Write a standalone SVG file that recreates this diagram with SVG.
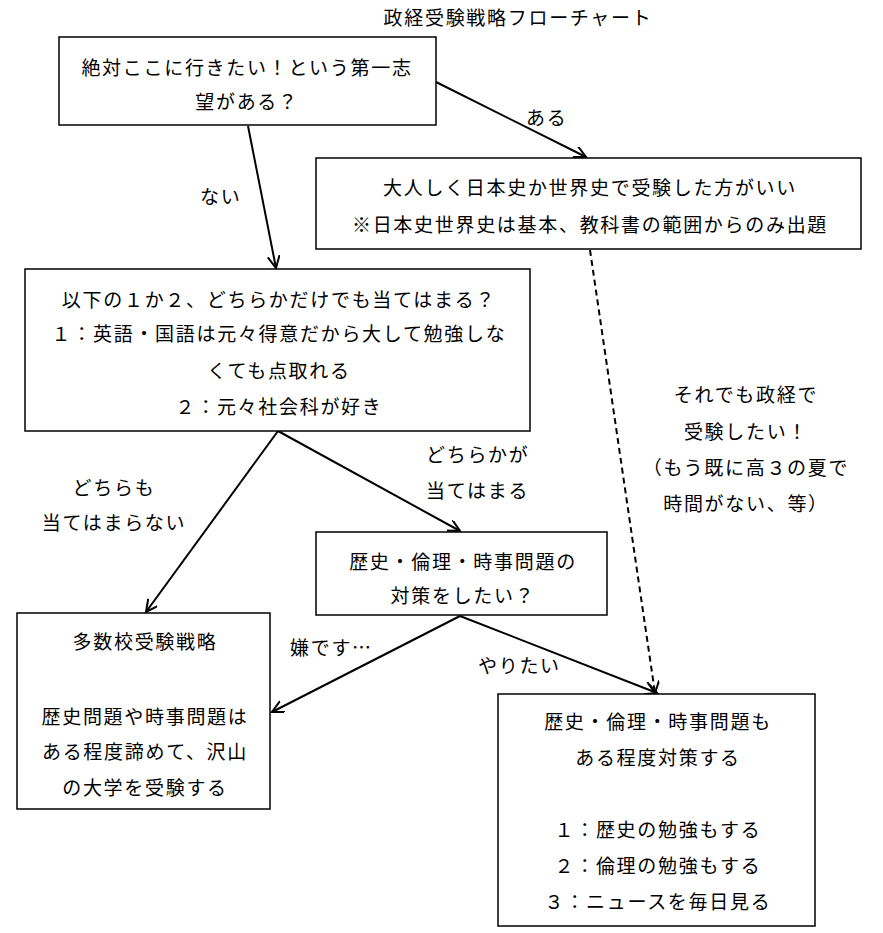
<svg xmlns="http://www.w3.org/2000/svg" width="883" height="933" viewBox="0 0 883 933">
<style>
text{font-family:"Noto Sans CJK JP","Noto Sans CJK SC",sans-serif;font-size:19px;fill:#000;letter-spacing:1.7px}
.c{text-anchor:middle}
.box{fill:#fff;stroke:#000;stroke-width:1.5}
.ln{stroke:#000;stroke-width:2;fill:none;marker-end:url(#arr)}
.dash{stroke-dasharray:6 4}
</style>
<defs>
<marker id="arr" markerWidth="14" markerHeight="14" refX="12" refY="6" orient="auto" markerUnits="userSpaceOnUse">
<path d="M0,0 L12,6 L0,12" fill="none" stroke="#000" stroke-width="2"/>
</marker>
</defs>
<text class="c" x="518" y="25">政経受験戦略フローチャート</text>
<g id="connectors">
<line class="ln" x1="436" y1="82" x2="586" y2="157"/>
<line class="ln" x1="248" y1="126" x2="276" y2="268"/>
<line class="ln dash" x1="590" y1="250" x2="655" y2="693"/>
<line class="ln" x1="278" y1="431" x2="146" y2="612"/>
<line class="ln" x1="278" y1="431" x2="460" y2="531"/>
<line class="ln" x1="460" y1="616" x2="272" y2="712"/>
<line class="ln" x1="460" y1="616" x2="657" y2="693"/>
<text x="526" y="125">ある</text>
<text x="200" y="204">ない</text>
<text class="c" x="746" y="402">それでも政経で</text>
<text class="c" x="746" y="439">受験したい！</text>
<text class="c" x="746" y="475">（もう既に高３の夏で</text>
<text class="c" x="746" y="511">時間がない、等）</text>
<text x="426" y="462">どちらかが</text>
<text x="426" y="498">当てはまる</text>
<text class="c" x="114" y="495">どちらも</text>
<text class="c" x="114" y="530">当てはまらない</text>
<text x="290" y="655">嫌です…</text>
<text x="478" y="673">やりたい</text>
</g>
<g id="n1">
<rect class="box" x="59" y="37" width="377" height="88"/>
<text class="c" x="247" y="75">絶対ここに行きたい！という第一志</text>
<text class="c" x="247" y="109">望がある？</text>
</g>
<g id="n2">
<rect class="box" x="316" y="158" width="545" height="91"/>
<text class="c" x="590" y="195">大人しく日本史か世界史で受験した方がいい</text>
<text class="c" x="590" y="232">※日本史世界史は基本、教科書の範囲からのみ出題</text>
</g>
<g id="n3">
<rect class="box" x="25" y="269" width="505" height="162"/>
<text class="c" x="279" y="307">以下の１か２、どちらかだけでも当てはまる？</text>
<text class="c" x="279" y="341">１：英語・国語は元々得意だから大して勉強しな</text>
<text class="c" x="279" y="378">くても点取れる</text>
<text class="c" x="279" y="414">２：元々社会科が好き</text>
</g>
<g id="n4">
<rect class="box" x="316" y="532" width="291" height="83"/>
<text class="c" x="463" y="569">歴史・倫理・時事問題の</text>
<text class="c" x="463" y="603">対策をしたい？</text>
</g>
<g id="n5">
<rect class="box" x="17" y="613" width="253" height="196"/>
<text class="c" x="145" y="649">多数校受験戦略</text>
<text class="c" x="145" y="724">歴史問題や時事問題は</text>
<text class="c" x="145" y="759">ある程度諦めて、沢山</text>
<text class="c" x="145" y="795">の大学を受験する</text>
</g>
<g id="n6">
<rect class="box" x="498" y="694" width="317" height="232"/>
<text class="c" x="658" y="729">歴史・倫理・時事問題も</text>
<text class="c" x="658" y="765">ある程度対策する</text>
<text class="c" x="658" y="837">１：歴史の勉強もする</text>
<text class="c" x="658" y="873">２：倫理の勉強もする</text>
<text class="c" x="658" y="909">３：ニュースを毎日見る</text>
</g>
</svg>
